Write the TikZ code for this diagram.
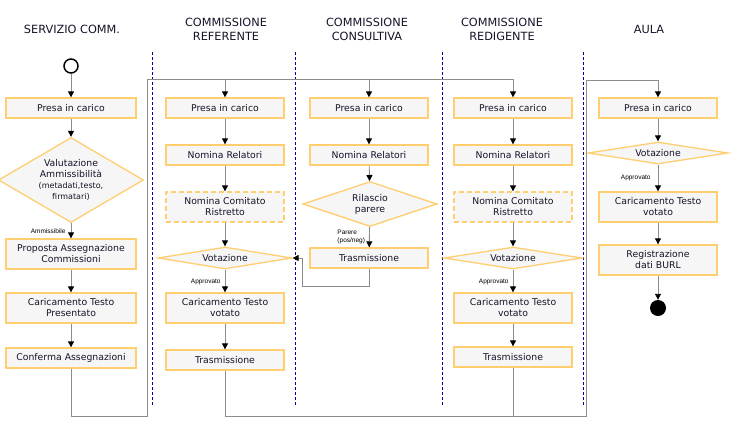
\documentclass[tikz,border=0pt]{standalone}
\usepackage{fontspec}
\setmainfont{DejaVu Sans}
\newfontfamily\lblfont{Liberation Sans}
\usetikzlibrary{shapes.geometric,arrows.meta}
\definecolor{boxline}{RGB}{255,206,112}
\definecolor{boxfill}{RGB}{246,246,246}
\definecolor{linkgray}{RGB}{140,140,140}
\definecolor{laneblue}{RGB}{0,0,160}
\definecolor{inkc}{RGB}{20,20,40}

\tikzset{
  act/.style={draw=boxline, fill=boxfill, line width=1.3pt, minimum width=118pt, minimum height=20pt, inner sep=1pt, align=center, text=inkc, font=\fontsize{9.3}{11}\selectfont},
  wide/.style={minimum width=130pt},
  tall/.style={minimum height=30pt},
  opt/.style={act, dash pattern=on 5pt off 3pt},
  dec/.style={diamond, draw=boxline, fill=boxfill, line width=1.3pt, inner sep=0pt, aspect=6, align=center, text=inkc, font=\fontsize{9.3}{11}\selectfont},
  link/.style={draw=linkgray, line width=0.9pt},
  flow/.style={link, -{Triangle[length=6pt,width=6pt,black]}},
  lbl/.style={font=\lblfont\fontsize{6.5}{7.5}\selectfont, text=black, inner sep=1pt},
  head/.style={align=center, text=inkc, font=\fontsize{11.3}{14}\selectfont},
  lane/.style={draw=laneblue, dash pattern=on 3pt off 2pt, line width=0.8pt}
}

\begin{document}
\begin{tikzpicture}[x=1pt, y=-1pt]
\useasboundingbox (0,0) rectangle (737,445);

% lanes
\node[head] (hServ) at (72,29) {SERVIZIO COMM.};
\node[head] (hRef) at (226,29) {COMMISSIONE\\REFERENTE};
\node[head] (hCons) at (367,29) {COMMISSIONE\\CONSULTIVA};
\node[head] (hRed) at (502,29) {COMMISSIONE\\REDIGENTE};
\node[head] (hAula) at (649,29) {AULA};
\foreach \x in {152,295,442,583}
  \draw[lane] (\x,52) -- (\x,405);

% servizio commissioni
\node[circle, draw=black, line width=1.5pt, minimum size=14pt, inner sep=0pt] (sStart) at (71,66) {};
\node[act, wide] (sPresa) at (71,108) {Presa in carico};
\node[dec, aspect=1.8, minimum width=145pt, minimum height=85pt] (sValuta) at (71,180)
  {Valutazione\\Ammissibilità\\{\fontsize{8}{9.5}\selectfont(metadati,testo,}\\{\fontsize{8}{9.5}\selectfont firmatari)}};
\node[act, wide, tall] (sProposta) at (71,254) {Proposta Assegnazione\\Commissioni};
\node[act, wide, tall] (sCarica) at (71,308) {Caricamento Testo\\Presentato};
\node[act, wide] (sConferma) at (71,358) {Conferma Assegnazioni};

% referente
\node[act] (rPresa) at (225,108) {Presa in carico};
\node[act] (rNomina) at (225,155) {Nomina Relatori};
\node[opt, tall] (rComitato) at (225,207) {Nomina Comitato\\Ristretto};
\node[dec, minimum width=134pt, minimum height=22pt] (rVota) at (225,258) {Votazione};
\node[act, tall] (rCarica) at (225,308) {Caricamento Testo\\votato};
\node[act] (rTrasm) at (225,360) {Trasmissione};

% consultiva
\node[act] (cPresa) at (369,108) {Presa in carico};
\node[act] (cNomina) at (369,155) {Nomina Relatori};
\node[dec, aspect=3, minimum width=134pt, minimum height=45pt] (cParere) at (370,204) {Rilascio\\parere};
\node[act] (cTrasm) at (369,258) {Trasmissione};

% redigente
\node[act] (dPresa) at (513,108) {Presa in carico};
\node[act] (dNomina) at (513,155) {Nomina Relatori};
\node[opt, tall] (dComitato) at (513,207) {Nomina Comitato\\Ristretto};
\node[dec, minimum width=138pt, minimum height=22pt] (dVota) at (513,258) {Votazione};
\node[act, tall] (dCarica) at (513,308) {Caricamento Testo\\votato};
\node[act] (dTrasm) at (513,357) {Trasmissione};

% aula
\node[act] (aPresa) at (658,108) {Presa in carico};
\node[dec, minimum width=140pt, minimum height=22pt] (aVota) at (658,153) {Votazione};
\node[act, tall] (aCarica) at (658,207) {Caricamento Testo\\votato};
\node[act, tall] (aRegistra) at (658,260) {Registrazione\\dati BURL};
\node[circle, fill=black, minimum size=16pt, inner sep=0pt] (aEnd) at (658,308) {};

\coordinate (jS) at (147,416);
\coordinate (bus) at (147,79);
\coordinate (jR) at (586,416);
\coordinate (busA) at (586,80);
\coordinate (cBack) at (302,286);

\draw[flow] (sStart) -- (sPresa);
\draw[flow] (sPresa) -- (sValuta);
\draw[flow] (sValuta) -- node[lbl, left=4pt] {Ammissibile} (sProposta);
\draw[flow] (sProposta) -- (sCarica);
\draw[flow] (sCarica) -- (sConferma);
\draw[flow] (sConferma.south) |- (jS) -- (bus) -| (dPresa.north);
\draw[flow] (rPresa.north |- bus) -- (rPresa);
\draw[flow] (cPresa.north |- bus) -- (cPresa);

\draw[flow] (rPresa) -- (rNomina);
\draw[flow] (rNomina) -- (rComitato);
\draw[flow] (rComitato) -- (rVota);
\draw[flow] (rVota) -- node[lbl, pos=0.55, left=3pt] {Approvato} (rCarica);
\draw[flow] (rCarica) -- (rTrasm);
\draw[flow] (rTrasm.south) |- (jR) -- (busA) -| (aPresa.north);

\draw[flow] (cPresa) -- (cNomina);
\draw[flow] (cNomina) -- (cParere);
\draw[flow] (cParere) -- node[lbl, left=3pt, align=left] {Parere\\(pos/neg)} (cTrasm);
\draw[flow] (cTrasm.south) |- (cBack) |- (rVota.east);

\draw[flow] (dPresa) -- (dNomina);
\draw[flow] (dNomina) -- (dComitato);
\draw[flow] (dComitato) -- (dVota);
\draw[flow] (dVota) -- node[lbl, pos=0.55, left=3pt] {Approvato} (dCarica);
\draw[flow] (dCarica) -- (dTrasm);
\draw[link] (dTrasm.south) -- (dTrasm.south |- jR);

\draw[flow] (aPresa) -- (aVota);
\draw[flow] (aVota) -- node[lbl, left=6pt] {Approvato} (aCarica);
\draw[flow] (aCarica) -- (aRegistra);
\draw[flow] (aRegistra) -- (aEnd);
\end{tikzpicture}
\end{document}
